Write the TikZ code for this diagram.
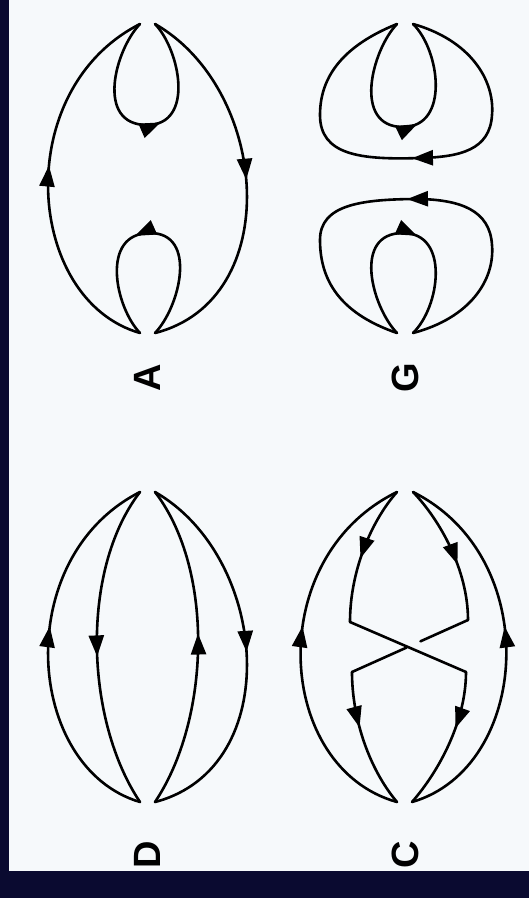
\documentclass[tikz,border=0pt]{standalone}
\usepackage{fontspec}
\setmainfont{Liberation Sans}
\usetikzlibrary{arrows.meta,decorations.markings,calc}
\definecolor{navyedge}{RGB}{10,10,48}
\definecolor{paper}{RGB}{246,249,251}

\begin{document}
\begin{tikzpicture}[
		x=1pt, y=-1pt,
		line cap=round, line join=round,
		strand/.style={draw=black, line width=2.6pt},
		flow/.style={strand, decoration={markings, mark=at position #1 with {\arrow{Triangle[length=21pt,width=15pt]}}}, postaction={decorate}},
		flow/.default=0.5,
		letter/.style={font=\fontsize{38}{38}\selectfont\bfseries, rotate=90, inner sep=0pt}
		]
		\fill[navyedge] (0,0) rectangle (529,898);
		\fill[paper] (9,0) rectangle (529,871);
		\useasboundingbox (0,0) rectangle (529,898);

		\coordinate (A-tl) at (140,24);  \coordinate (A-tr) at (155,24);
		\coordinate (A-bl) at (140,333); \coordinate (A-br) at (155,333);
		\coordinate (G-tl) at (397,24);  \coordinate (G-tr) at (413,24);
		\coordinate (G-bl) at (397,333); \coordinate (G-br) at (413,333);
		\coordinate (D-tl) at (140,492); \coordinate (D-tr) at (155,492);
		\coordinate (D-bl) at (140,802); \coordinate (D-br) at (155,802);
		\coordinate (C-tl) at (397,492); \coordinate (C-tr) at (413,492);
		\coordinate (C-bl) at (397,802); \coordinate (C-br) at (412,802);
		\coordinate (C-l1) at (350,622); \coordinate (C-r2) at (466,672);
		\coordinate (C-r1) at (468,620); \coordinate (C-l2) at (352,672);

		\draw[flow=0.54] (A-bl) .. controls (25,300) and (10,90) .. (A-tl);
		\draw[flow=0.56] (A-tl) .. controls (115,50) and (95,125) .. (147,125) .. controls (195,125) and (180,50) .. (A-tr);
		\draw[flow=0.49] (A-tr) .. controls (270,90) and (285,300) .. (A-br);
		\draw[flow=0.56] (A-br) .. controls (180,307) and (198,233) .. (150,233) .. controls (100,233) and (115,307) .. (A-bl);
		\node[letter] (labA) at (147,378) {A};

		\draw[flow=0.56] (G-tl) .. controls (372,50) and (352,127) .. (403,127) .. controls (450,127) and (440,50) .. (G-tr);
		\draw[flow=0.49] (G-tr) .. controls (470,40) and (495,80) .. (492,115) .. controls (490,150) and (460,157) .. (420,158) .. controls (360,160) and (320,155) .. (320,115) .. controls (320,75) and (345,45) .. (G-tl);
		\draw[flow=0.56] (G-bl) .. controls (372,307) and (352,233) .. (403,233) .. controls (450,233) and (440,307) .. (G-br);
		\draw[flow=0.5] (G-br) .. controls (470,318) and (495,280) .. (492,245) .. controls (490,210) and (460,200) .. (420,199) .. controls (360,199) and (320,205) .. (320,240) .. controls (320,285) and (345,315) .. (G-bl);
		\node[letter] (labG) at (405,378) {G};

		\draw[flow=0.56] (D-bl) .. controls (25,768) and (10,558) .. (D-tl);
		\draw[flow=0.53] (D-tl) .. controls (80,570) and (85,720) .. (D-bl);
		\draw[flow=0.54] (D-br) .. controls (210,720) and (215,570) .. (D-tr);
		\draw[flow=0.5] (D-tr) .. controls (270,558) and (285,768) .. (D-br);
		\node[letter] (labD) at (147,855) {D};

		\draw[flow=0.56] (C-bl) .. controls (275,768) and (262,558) .. (C-tl);
		\draw[flow=0.56] (C-br) .. controls (530,768) and (545,558) .. (C-tr);
		\draw[flow=0.54] (C-tl) .. controls (372,520) and (350,570) .. (C-l1);
		\draw[flow=0.6] (C-tr) .. controls (440,520) and (468,570) .. (C-r1);
		\draw[strand] (C-r1) -- ($(C-r1)!0.41!(C-l2)$) ($(C-r1)!0.53!(C-l2)$) -- (C-l2);
		\draw[strand] (C-l1) -- (C-r2);
		\draw[flow=0.4] (C-r2) .. controls (466,720) and (440,770) .. (C-br);
		\draw[flow=0.4] (C-l2) .. controls (352,720) and (370,770) .. (C-bl);
		\node[letter] (labC) at (405,855) {C};
	\end{tikzpicture}
\end{document}
